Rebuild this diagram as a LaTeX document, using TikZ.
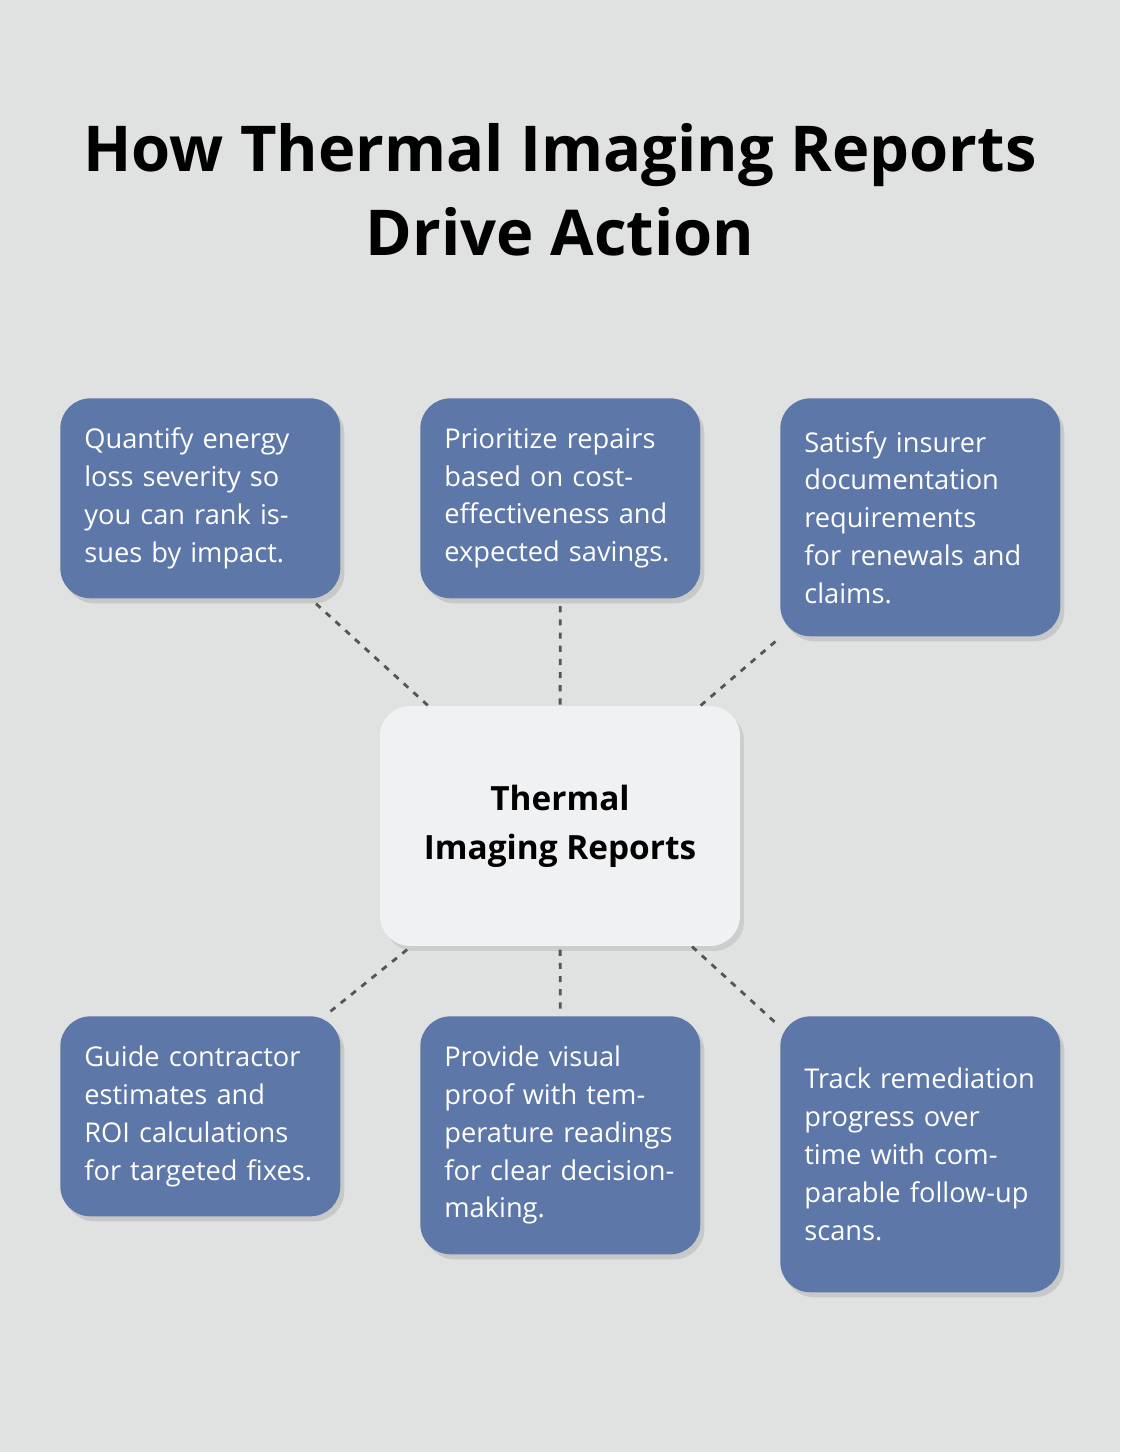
\documentclass[tikz,border=0pt]{standalone}
\usepackage{fontspec}
\setmainfont{Open Sans}
\usepackage{xcolor}
\definecolor{PageBack}{HTML}{E0E2E1}
\definecolor{BoxBlue}{HTML}{5D77A8}
\definecolor{CenterFill}{HTML}{F0F1F3}
\definecolor{LinkGray}{HTML}{555555}
\usetikzlibrary{shadows}

\tikzset{
  item/.style={draw=none, fill=BoxBlue, rounded corners=0.6cm, text=white,
    anchor=north west, align=left, text width=4.64cm, inner sep=0.48cm,
    minimum height=4cm,
    font=\fontsize{15.5}{21.5}\selectfont,
    drop shadow={opacity=0.25, shadow xshift=0.08cm, shadow yshift=-0.1cm}},
  link/.style={draw=LinkGray, line width=1.6pt, dash pattern=on 3.5pt off 4pt,
    shorten <=0.15cm}
}

\begin{document}
\begin{tikzpicture}[x=0.02cm, y=-0.02cm]

\fill[PageBack] (0,0) rectangle (1120,1452);
\useasboundingbox (0,0) rectangle (1120,1452);

\node[font=\bfseries\fontsize{36}{47.5}\selectfont, align=center]
  (title) at (560,190) {How Thermal Imaging Reports\\Drive Action};

% rangée du haut
\node[item] (quantify) at (60,398) {Quantify energy loss severity so you can rank issues by impact.};
\node[item] (prioritize) at (420,398) {Prioritize repairs based on cost-effectiveness and expected savings.};
\node[item, minimum height=4.76cm] (insurer) at (780,398) {Satisfy insurer documentation requirements for renewals and claims.};

% rangée du bas
\node[item] (guide) at (60,1016) {Guide contractor estimates and ROI calculations for targeted fixes.};
\node[item, minimum height=4.76cm] (proof) at (420,1016) {Provide visual proof with temperature readings for clear decision-making.};
\node[item, minimum height=5.52cm] (track) at (780,1016) {Track remediation progress over time with comparable follow-up scans.};

\node[fill=CenterFill, rounded corners=0.6cm, minimum width=7.2cm,
  minimum height=4.8cm, align=center, font=\bfseries\fontsize{19}{28}\selectfont,
  drop shadow={opacity=0.2, shadow xshift=0.08cm, shadow yshift=-0.1cm}]
  (core) at (560,826) {Thermal\\Imaging Reports};

\foreach \leaf in {quantify, prioritize, insurer, guide, proof, track}
  \draw[link] (\leaf) -- (core);

\end{tikzpicture}
\end{document}
